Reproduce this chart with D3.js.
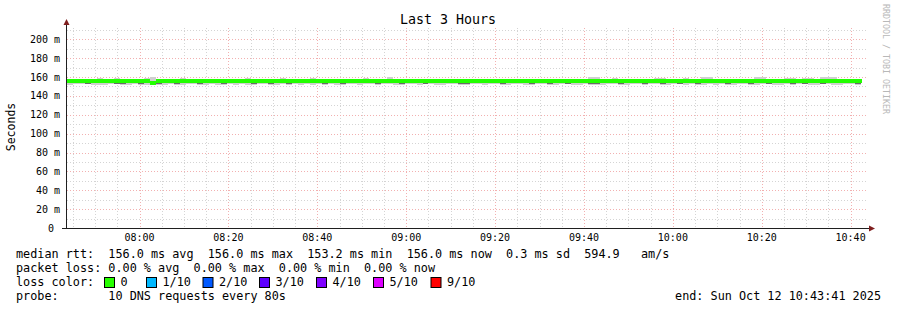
<!DOCTYPE html>
<html lang="en">
<head>
<meta charset="UTF-8">
<title>Last 3 Hours</title>
<script src="https://d3js.org/d3.v7.min.js"></script>
<style>
  body { margin: 0; background: #fff; }
  text { font-family: "DejaVu Sans Mono", monospace; white-space: pre; fill: #000; }
</style>
</head>
<body>
<div id="chart"></div>
<script>
// graph time frame, one rrd step = 80 s
const startTime = new Date(2025, 9, 12, 7, 43, 41);
const endTime = new Date(2025, 9, 12, 10, 43, 41);
const stepSeconds = 80;

// median rtt per step (ms)
const median = [
  156.0,156.0,155.9,156.0,156.0,156.0,156.0,156.0,156.0,156.0,
  156.0,156.0,156.0,156.0,153.2,156.0,156.0,156.0,156.0,156.0,
  156.0,156.0,156.0,156.0,156.0,156.0,156.0,156.0,156.0,156.0,
  156.0,156.0,156.0,156.0,156.0,156.0,156.0,156.0,156.0,156.0,
  156.0,156.0,156.0,156.0,156.0,156.0,156.0,156.0,156.0,156.0,
  156.0,156.0,156.0,156.0,156.0,156.0,156.0,156.0,156.0,156.0,
  156.0,156.0,156.0,156.0,156.0,156.0,156.0,156.0,156.0,156.0,
  156.0,156.0,156.0,156.0,156.0,156.0,156.0,156.0,156.0,156.0,
  156.0,156.0,156.0,156.0,156.0,156.0,156.0,156.0,156.0,156.0,
  156.0,156.0,156.0,156.0,156.0,156.0,156.0,156.0,156.0,156.0,
  156.0,156.0,156.0,156.0,156.0,156.0,156.0,156.0,156.0,156.0,
  156.0,156.0,156.0,156.0,156.0,156.0,156.0,156.0,156.0,156.0,
  156.0,156.0,156.0,156.0,156.0,156.0,156.0,156.0,156.0,156.0,
  156.0,156.0,156.0,156.0
];

// highest ping per step (ms)
const smokeHi = [
  157.0,157.0,157.0,157.0,157.0,158.5,157.0,157.0,158.5,157.0,
  157.0,158.3,157.0,159.0,160.2,158.0,157.0,157.0,157.0,158.5,
  157.0,157.0,157.0,157.0,157.0,157.0,157.0,157.0,157.0,157.0,
  158.5,157.0,157.0,157.0,157.0,157.0,158.5,157.0,157.0,157.0,
  157.0,158.5,157.0,157.0,157.0,157.0,157.0,157.0,157.0,157.0,
  158.5,157.0,157.0,157.0,160.0,157.0,157.0,157.0,157.0,157.0,
  157.0,157.0,157.0,157.0,157.0,157.0,157.0,157.0,157.0,157.0,
  157.0,157.0,158.3,158.3,158.3,157.0,157.0,157.0,157.0,157.0,
  157.0,157.0,157.0,157.0,157.0,157.0,157.0,157.0,160.0,160.0,
  157.0,157.0,158.5,157.0,157.0,157.0,157.0,157.0,157.0,159.5,
  159.5,157.0,157.0,157.0,158.5,157.0,157.0,160.0,160.0,157.0,
  157.0,157.0,157.0,157.0,157.0,157.0,160.0,160.0,157.0,157.0,
  157.0,159.0,159.0,157.0,159.0,159.0,157.0,160.0,160.0,160.0,
  157.0,157.0,157.0,157.0
];

// lowest ping per step (ms)
const smokeLo = [
  152.0,152.4,153.0,152.2,151.8,152.0,151.6,152.2,152.4,151.8,
  152.0,152.2,151.6,151.8,151.2,152.0,151.6,152.4,152.0,151.8,
  152.6,152.2,152.0,151.8,152.4,152.0,151.6,152.2,152.0,152.6,
  152.0,151.8,152.2,152.4,151.6,152.0,152.2,151.8,152.6,152.0,
  152.2,151.8,152.4,152.0,152.2,151.6,152.0,152.4,152.2,151.8,
  152.6,152.2,152.0,152.8,152.4,152.0,151.8,152.2,152.6,152.0,
  152.2,152.4,151.8,152.0,152.2,152.6,152.0,151.8,152.4,152.2,
  152.0,152.4,152.2,151.8,152.0,152.6,152.2,152.0,151.8,152.4,
  152.2,152.0,151.8,152.4,152.2,152.0,151.6,152.2,151.8,151.6,
  152.0,152.2,152.4,152.0,151.8,152.2,152.6,152.0,152.4,152.2,
  151.8,152.0,152.2,152.4,151.6,152.2,152.0,151.8,152.2,152.0,
  152.4,152.0,151.8,152.2,152.6,152.0,151.8,152.2,152.4,152.0,
  151.8,152.2,152.0,152.4,152.2,151.8,152.0,152.2,152.4,151.8,
  152.0,152.2,152.4,152.0
];

// third lowest ping per step (ms), the dense part of the smoke
const smokeMid = [
  154.0,154.0,154.0,152.6,154.0,154.0,154.0,154.0,152.8,152.6,
  154.0,154.0,152.4,154.0,152.0,152.6,154.0,154.0,152.8,154.0,
  154.0,154.0,152.6,154.0,154.0,154.0,152.4,154.0,154.0,154.0,
  154.0,152.6,154.0,154.0,152.8,154.0,154.0,152.6,154.0,154.0,
  154.0,154.0,154.0,152.6,154.0,154.0,152.4,154.0,154.0,154.0,
  154.0,154.0,152.8,154.0,154.0,154.0,152.6,154.0,154.0,154.0,
  152.6,154.0,154.0,154.0,154.0,154.0,152.4,152.6,154.0,154.0,
  154.0,154.0,154.0,152.6,154.0,154.0,154.0,154.0,152.6,154.0,
  154.0,152.8,154.0,154.0,152.6,154.0,154.0,154.0,152.4,152.6,
  154.0,154.0,154.0,152.8,154.0,154.0,154.0,152.4,154.0,154.0,
  152.4,154.0,154.0,152.8,154.0,154.0,152.6,154.0,154.0,154.0,
  154.0,152.6,154.0,154.0,154.0,152.4,154.0,154.0,152.8,154.0,
  154.0,154.0,152.6,154.0,152.4,154.0,154.0,152.8,154.0,154.0,
  154.0,154.0,154.0,152.6
];

const yTicks = [0, 20, 40, 60, 80, 100, 120, 140, 160, 180, 200];
const yTickLabels = ["0 ", "20 m", "40 m", "60 m", "80 m", "100 m", "120 m", "140 m", "160 m", "180 m", "200 m"];
const xTickLabels = ["08:00", "08:20", "08:40", "09:00", "09:20", "09:40", "10:00", "10:20", "10:40"];

const lossLabels = ["0", "1/10", "2/10", "3/10", "4/10", "5/10", "9/10"];
const lossColors = ["#26ff00", "#00b8ff", "#0059ff", "#5e00ff", "#7e00ff", "#dd00ff", "#ff0000"];

const legendLines = [
  "median rtt:  156.0 ms avg  156.0 ms max  153.2 ms min  156.0 ms now  0.3 ms sd  594.9   am/s",
  "packet loss: 0.00 % avg  0.00 % max  0.00 % min  0.00 % now"
];
const probeText = "probe:       10 DNS requests every 80s";
const endText = "end: Sun Oct 12 10:43:41 2025";

// layout
const width = 897, height = 310;
const plot = { left: 67, right: 867, top: 28, bottom: 228 };

const svg = d3.select("#chart").append("svg")
  .attr("width", width)
  .attr("height", height)
  .style("display", "block");

svg.append("rect").attr("width", width).attr("height", height).attr("fill", "#fff");

const x = d3.scaleTime().domain([startTime, endTime]).range([plot.left, plot.right]);
const y = d3.scaleLinear().domain([0, 212]).range([plot.bottom, plot.top]);

const stepTime = i => new Date(startTime.getTime() + i * stepSeconds * 1000);

// grid
const grid = svg.append("g");
const minorX = d3.timeMinute.every(5).range(startTime, endTime).filter(d => d.getMinutes() % 20 !== 0);
const majorX = d3.timeMinute.every(20).range(startTime, endTime);
const minorY = d3.range(10, 212, 20);
const minorCol = "#d4d4d4", majorCol = "#f2b0b0", dash = "1,2";

grid.selectAll(".vmin").data(minorX).enter().append("line")
  .attr("x1", d => Math.round(x(d)) + 0.5).attr("x2", d => Math.round(x(d)) + 0.5)
  .attr("y1", plot.top).attr("y2", plot.bottom)
  .attr("stroke", minorCol).attr("stroke-dasharray", dash);
grid.selectAll(".hmin").data(minorY).enter().append("line")
  .attr("x1", plot.left).attr("x2", plot.right)
  .attr("y1", d => Math.round(y(d)) + 0.5).attr("y2", d => Math.round(y(d)) + 0.5)
  .attr("stroke", minorCol).attr("stroke-dasharray", dash);
grid.selectAll(".vmaj").data(majorX).enter().append("line")
  .attr("x1", d => Math.round(x(d)) + 0.5).attr("x2", d => Math.round(x(d)) + 0.5)
  .attr("y1", plot.top).attr("y2", plot.bottom)
  .attr("stroke", majorCol).attr("stroke-dasharray", dash);
grid.selectAll(".hmaj").data(yTicks.slice(1)).enter().append("line")
  .attr("x1", plot.left).attr("x2", plot.right)
  .attr("y1", d => Math.round(y(d)) + 0.5).attr("y2", d => Math.round(y(d)) + 0.5)
  .attr("stroke", majorCol).attr("stroke-dasharray", dash);

// smoke
const smoke = svg.append("g").attr("shape-rendering", "crispEdges");
median.forEach((m, i) => {
  const x0 = x(stepTime(i)), x1 = x(stepTime(i + 1));
  smoke.append("rect")
    .attr("x", x0).attr("width", x1 - x0)
    .attr("y", y(smokeHi[i])).attr("height", y(smokeLo[i]) - y(smokeHi[i]))
    .attr("fill", "#cfcfcf");
  if (smokeMid[i] < m) {
    smoke.append("rect")
      .attr("x", x0).attr("width", x1 - x0)
      .attr("y", y(m)).attr("height", y(smokeMid[i]) - y(m))
      .attr("fill", "#6a6a6a");
  }
});

// median line, drawn as crisp 4px bars per step
const med = svg.append("g").attr("shape-rendering", "crispEdges");
median.forEach((m, i) => {
  const x0 = x(stepTime(i)), x1 = x(stepTime(i + 1));
  med.append("rect")
    .attr("x", x0).attr("width", x1 - x0 + 0.5)
    .attr("y", Math.round(y(m)) - 2).attr("height", 4)
    .attr("fill", "#22ff00");
});

// axes
svg.append("line")
  .attr("x1", plot.left - 0.5).attr("x2", plot.left - 0.5)
  .attr("y1", plot.bottom + 0.5).attr("y2", 23)
  .attr("stroke", "#1f1f1f");
svg.append("line")
  .attr("x1", 62).attr("x2", plot.right + 3)
  .attr("y1", plot.bottom + 0.5).attr("y2", plot.bottom + 0.5)
  .attr("stroke", "#1f1f1f");
svg.append("path")
  .attr("d", `M${plot.left - 3.5},25 L${plot.left + 2.5},25 L${plot.left - 0.5},19 Z`)
  .attr("fill", "#7f1f1f");
svg.append("path")
  .attr("d", `M${plot.right + 2},${plot.bottom - 2.5} L${plot.right + 2},${plot.bottom + 3.5} L${plot.right + 8},${plot.bottom + 0.5} Z`)
  .attr("fill", "#7f1f1f");

// axis tick labels
svg.selectAll(".ylab").data(yTicks).enter().append("text")
  .attr("x", 60).attr("y", d => y(d) + 3.5)
  .attr("text-anchor", "end")
  .attr("font-size", "10px")
  .text((d, i) => yTickLabels[i]);

const day = d3.timeFormat("%Y-%m-%d")(startTime);
const parseT = d3.timeParse("%Y-%m-%d %H:%M");
svg.selectAll(".xlab").data(xTickLabels).enter().append("text")
  .attr("x", d => x(parseT(day + " " + d)))
  .attr("y", 241)
  .attr("text-anchor", "middle")
  .attr("font-size", "10px")
  .text(d => d);

// titles
svg.append("text")
  .attr("x", 448).attr("y", 24)
  .attr("text-anchor", "middle")
  .attr("font-size", "13.3px")
  .text("Last 3 Hours");

svg.append("text")
  .attr("transform", "translate(15,127) rotate(-90)")
  .attr("text-anchor", "middle")
  .attr("font-size", "11.5px")
  .text("Seconds");

svg.append("text")
  .attr("transform", "translate(883,4) rotate(90)")
  .attr("font-size", "8.3px")
  .style("fill", "#b8b8b8")
  .text("RRDTOOL / TOBI OETIKER");

// legend
const legend = svg.append("g").attr("font-size", "11.8px");
legendLines.forEach((t, i) => {
  legend.append("text").attr("x", 16).attr("y", 258 + i * 14).text(t);
});
legend.append("text").attr("x", 16).attr("y", 286).text("loss color:");

const boxX = [104.5, 146.5, 203, 259.5, 316.5, 373.5, 431];
lossLabels.forEach((l, i) => {
  legend.append("rect")
    .attr("x", boxX[i]).attr("y", 277.5)
    .attr("width", 10).attr("height", 10)
    .attr("fill", lossColors[i])
    .attr("stroke", "#000");
  legend.append("text").attr("x", boxX[i] + 16).attr("y", 286).text(l);
});

legend.append("text").attr("x", 16).attr("y", 300).text(probeText);
legend.append("text").attr("x", 881).attr("y", 300).attr("text-anchor", "end").text(endText);
</script>
</body>
</html>
